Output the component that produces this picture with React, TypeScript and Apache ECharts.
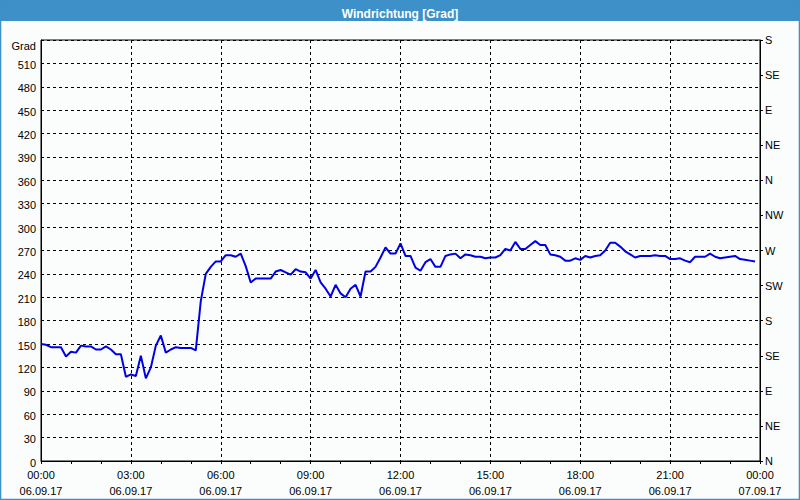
import React, { useEffect, useRef } from "react";
import * as echarts from "echarts";

// Wind direction (degrees), one value every 10 minutes from 00:00 to 23:50 on 06.09.17
const windValues: number[] = [
  150, 149, 146, 146, 146, 134, 140, 139, 148, 147,
  147, 143, 143, 147, 143, 137, 137, 108, 111, 109,
  135, 106, 120, 148, 161, 139, 143, 146, 145, 145,
  145, 142, 205, 240, 249, 256, 256, 264, 264, 262,
  266, 250, 229, 234, 234, 234, 234, 243, 245, 242,
  239, 246, 243, 242, 234, 245, 229, 221, 211, 226,
  215, 210, 221, 226, 211, 243, 243, 249, 261, 274,
  266, 266, 279, 263, 263, 248, 244, 255, 259, 249,
  249, 263, 265, 266, 260, 265, 264, 262, 262, 260,
  261, 261, 264, 272, 270, 281, 272, 272, 277, 282,
  277, 277, 265, 264, 262, 257, 257, 260, 258, 263,
  261, 263, 264, 270, 280, 280, 275, 269, 265, 261,
  263, 263, 263, 264, 263, 263, 259, 259, 260, 257,
  255, 262, 262, 262, 266, 262, 260, 261, 262, 263,
  259, 258, 257, 256,
];
const stepMinutes = 10;

// X tick labels (every 3 hours)
const timeLabels: string[] = ["00:00", "03:00", "06:00", "09:00", "12:00", "15:00", "18:00", "21:00", "00:00"];
const dateLabels: string[] = ["06.09.17", "06.09.17", "06.09.17", "06.09.17", "06.09.17", "06.09.17", "06.09.17", "06.09.17", "07.09.17"];

// Right axis compass labels (every 45 degrees from 0 to 540)
const compassLabels: string[] = ["N", "NE", "E", "SE", "S", "SW", "W", "NW", "N", "NE", "E", "SE", "S"];

const titleText = "Windrichtung [Grad]";
const unitLabel = "Grad";

export default function App() {
  const ref = useRef<HTMLDivElement>(null);
  useEffect(() => {
    if (!ref.current) return;
    const chart = echarts.init(ref.current, null, { renderer: "svg" });
    const font = "Liberation Sans";
    const data = windValues.map((v, i) => [(i * stepMinutes) / 60, v]);
    chart.setOption({
      animation: false,
      backgroundColor: "#fbfdfc",
      textStyle: { fontFamily: font },
      title: {
        text: titleText,
        left: "center",
        top: 3,
        textStyle: { color: "#ffffff", fontSize: 12, fontWeight: "bold", fontFamily: font },
      },
      graphic: [
        {
          type: "rect",
          shape: { x: 0, y: 0, width: 800, height: 21 },
          style: { fill: "#3d91c8" },
          z: -1,
        },
        {
          type: "rect",
          shape: { x: 0.5, y: 0.5, width: 799, height: 499 },
          style: { fill: "none", stroke: "#3d91c8", lineWidth: 1.5 },
          z: -1,
        },
      ],
      grid: {
        left: 41,
        right: 40,
        top: 40,
        bottom: 39,
        show: true,
        borderColor: "#000",
        borderWidth: 1,
        backgroundColor: "transparent",
      },
      xAxis: {
        type: "value",
        min: 0,
        max: 24,
        interval: 3,
        axisLine: { show: true, lineStyle: { color: "#000", width: 1 } },
        axisTick: { show: true, length: 3, lineStyle: { color: "#000" } },
        minorTick: { show: true, splitNumber: 3, length: 3, lineStyle: { color: "#000" } },
        splitLine: { show: true, lineStyle: { color: "#000", type: [3, 3], width: 1 } },
        axisLabel: {
          margin: 6,
          color: "#000",
          fontSize: 11,
          fontFamily: font,
          lineHeight: 16,
          showMinLabel: true,
          showMaxLabel: true,
          formatter: (v: number) => {
            const i = Math.round(v / 3);
            return timeLabels[i] + "\n" + dateLabels[i];
          },
        },
      },
      yAxis: [
        {
          type: "value",
          min: 0,
          max: 540,
          interval: 30,
          position: "left",
          axisLine: { show: true, lineStyle: { color: "#000", width: 1 } },
          axisTick: { show: false },
          splitLine: { show: true, lineStyle: { color: "#000", type: [3, 3], width: 1 } },
          axisLabel: {
            margin: 5,
            color: "#000",
            fontSize: 11,
            fontFamily: font,
            padding: [3, 0, 0, 0],
            showMaxLabel: true,
            formatter: (v: number) => (v === 540 ? "{g|" + unitLabel + "}" : String(v)),
            rich: { g: { fontSize: 11, fontFamily: font, color: "#000", padding: [8, 0, 0, 0] } },
          },
        },
        {
          type: "value",
          min: 0,
          max: 540,
          interval: 45,
          position: "right",
          axisLine: { show: true, lineStyle: { color: "#000", width: 1 } },
          axisTick: { show: true, length: 3, lineStyle: { color: "#000" } },
          splitLine: { show: false },
          axisLabel: {
            margin: 5,
            color: "#000",
            fontSize: 11,
            fontFamily: font,
            padding: [4, 0, 0, 0],
            showMaxLabel: true,
            showMinLabel: true,
            formatter: (v: number) => compassLabels[Math.round(v / 45)],
          },
        },
      ],
      series: [
        {
          type: "line",
          yAxisIndex: 0,
          data,
          showSymbol: false,
          symbol: "none",
          lineStyle: { color: "#0000e6", width: 2 },
          z: 5,
        },
      ],
    });
    return () => chart.dispose();
  }, []);
  return <div ref={ref} style={{ position: "absolute", left: 0, top: 0, width: 800, height: 500 }} />;
}
